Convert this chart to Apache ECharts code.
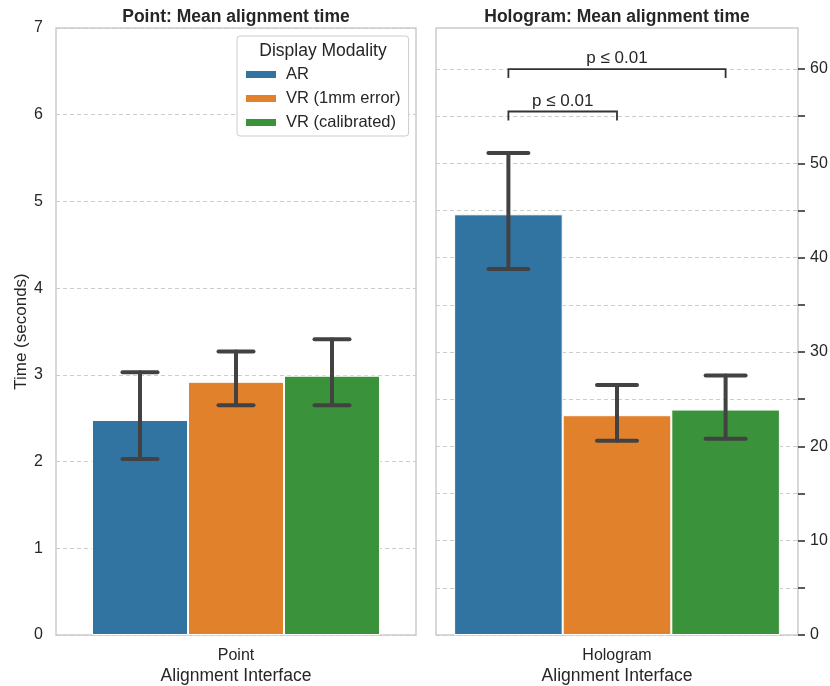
<!DOCTYPE html>
<html>
<head>
<meta charset="utf-8">
<script src="https://cdn.jsdelivr.net/npm/echarts@6/dist/echarts.min.js"></script>
<style>html,body{margin:0;padding:0;background:#fff}#c{width:830px;height:686px}</style>
</head>
<body>
<div id="c"></div>
<script>
// ---- data ----
const modalities = ['AR', 'VR (1mm error)', 'VR (calibrated)'];
const pointCategories = ['Point'];
const hologramCategories = ['Hologram'];
const pointMeans = [2.48, 2.92, 2.99];
const pointLow = [2.03, 2.65, 2.65];
const pointHigh = [3.03, 3.27, 3.41];
const hologramMeans = [44.6, 23.3, 23.9];
const hologramLow = [38.8, 20.6, 20.8];
const hologramHigh = [51.1, 26.5, 27.5];
const pointTicks = [0, 1, 2, 3, 4, 5, 6, 7];
const hologramTickValues = [0, 5, 10, 15, 20, 25, 30, 35, 40, 45, 50, 55, 60];
const hologramLabelValues = [0, 10, 20, 30, 40, 50, 60];
// significance brackets: [fromModality, toModality, height, label]
const brackets = [[0, 2, 60.0, 'p \u2264 0.01'], [0, 1, 55.5, 'p \u2264 0.01']];

const colors = ['#3274a1', '#e1812c', '#3a923a'];
const FONT = '"Liberation Sans", Arial, sans-serif';
const TXT = '#262626';
const ERR = '#424242';

const chart = echarts.init(document.getElementById('c'), null, {renderer: 'canvas'});

function errSeries(gridIdx, lows, highs, i, frac, cap) {
  return {
    type: 'custom', xAxisIndex: gridIdx, yAxisIndex: gridIdx, z: 10, silent: true,
    data: [[0, lows[i], highs[i]]],
    encode: {x: 0, y: [1, 2]},
    renderItem(params, api) {
      const lo = api.coord([api.value(0), api.value(1)]);
      const hi = api.coord([api.value(0), api.value(2)]);
      const band = api.size([1, 0])[0];
      const bw = band * frac / 3;
      const x = lo[0] + (i - 1) * bw;
      const style = {stroke: ERR, lineWidth: 4, lineCap: 'round'};
      return {type: 'group', children: [
        {type: 'line', shape: {x1: x, y1: lo[1], x2: x, y2: hi[1]}, style},
        {type: 'line', shape: {x1: x - cap, y1: lo[1], x2: x + cap, y2: lo[1]}, style},
        {type: 'line', shape: {x1: x - cap, y1: hi[1], x2: x + cap, y2: hi[1]}, style}
      ]};
    }
  };
}

const series = [];
modalities.forEach((m, i) => {
  series.push({
    type: 'bar', name: m, xAxisIndex: 0, yAxisIndex: 0, data: [pointMeans[i]],
    itemStyle: {color: colors[i], borderColor: '#fff', borderWidth: 1},
    barGap: '0%', barCategoryGap: '20%', silent: true
  });
  series.push({
    type: 'bar', name: m, xAxisIndex: 1, yAxisIndex: 1, data: [hologramMeans[i]],
    itemStyle: {color: colors[i], borderColor: '#fff', borderWidth: 1},
    barGap: '0%', barCategoryGap: '10%', silent: true
  });
});
modalities.forEach((m, i) => {
  series.push(errSeries(0, pointLow, pointHigh, i, 0.8, 17.5));
  series.push(errSeries(1, hologramLow, hologramHigh, i, 0.9, 20));
});
series.push({
  type: 'custom', xAxisIndex: 1, yAxisIndex: 1, z: 12, silent: true,
  data: brackets.map(b => [0, b[2], b[0], b[1]]),
  encode: {x: 0, y: 1},
  renderItem(params, api) {
    const p = api.coord([api.value(0), api.value(1)]);
    const band = api.size([1, 0])[0];
    const bw = band * 0.9 / 3;
    const x1 = p[0] + (api.value(2) - 1) * bw;
    const x2 = p[0] + (api.value(3) - 1) * bw;
    const drop = 9;
    const style = {stroke: '#333', lineWidth: 1.8, fill: null};
    const b = brackets[params.dataIndex];
    return {type: 'group', children: [
      {type: 'polyline', shape: {points: [[x1, p[1] + drop], [x1, p[1]], [x2, p[1]], [x2, p[1] + drop]]}, style},
      {type: 'text', x: (x1 + x2) / 2, y: p[1] - 2,
        style: {text: b[3], fill: TXT, font: '17px ' + FONT, textAlign: 'center', textVerticalAlign: 'bottom'}}
    ]};
  }
});

const option = {
  animation: false,
  backgroundColor: '#fff',
  textStyle: {fontFamily: FONT},
  grid: [
    {left: 56, right: 414, top: 28, bottom: 51, show: true, borderColor: '#cccccc', borderWidth: 1.5,
      backgroundColor: 'transparent', containLabel: false, outerBoundsMode: 'none'},
    {left: 436, right: 32, top: 28, bottom: 51, show: true, borderColor: '#cccccc', borderWidth: 1.5,
      backgroundColor: 'transparent', containLabel: false, outerBoundsMode: 'none'}
  ],
  xAxis: [
    {type: 'category', gridIndex: 0, data: pointCategories,
      axisLine: {show: false}, axisTick: {show: false},
      axisLabel: {color: TXT, fontSize: 16, margin: 13, fontFamily: FONT},
      name: 'Alignment Interface', nameLocation: 'middle', nameGap: 32, nameMoveOverlap: false,
      nameTextStyle: {color: TXT, fontSize: 17.5, fontFamily: FONT}},
    {type: 'category', gridIndex: 1, data: hologramCategories,
      axisLine: {show: false}, axisTick: {show: false},
      axisLabel: {color: TXT, fontSize: 16, margin: 13, fontFamily: FONT},
      name: 'Alignment Interface', nameLocation: 'middle', nameGap: 32, nameMoveOverlap: false,
      nameTextStyle: {color: TXT, fontSize: 17.5, fontFamily: FONT}}
  ],
  yAxis: [
    {type: 'value', gridIndex: 0, min: pointTicks[0], max: pointTicks[pointTicks.length - 1], interval: 1,
      axisLine: {show: false}, axisTick: {show: false},
      axisLabel: {color: TXT, fontSize: 16, margin: 13, fontFamily: FONT},
      splitLine: {lineStyle: {color: '#cccccc', type: [4, 3], width: 1}},
      name: 'Time (seconds)', nameLocation: 'middle', nameGap: 26,
      nameTextStyle: {color: TXT, fontSize: 17, fontFamily: FONT}},
    {type: 'value', gridIndex: 1, position: 'right', min: 0, max: 64.35, interval: 5,
      axisLine: {show: false},
      axisTick: {show: true, length: 7, inside: false, customValues: hologramTickValues,
        lineStyle: {color: TXT, width: 1.5}},
      axisLabel: {color: TXT, fontSize: 16, margin: 12, fontFamily: FONT, customValues: hologramLabelValues},
      splitLine: {lineStyle: {color: '#cccccc', type: [4, 3], width: 1}}}
  ],
  legend: {
    data: modalities, orient: 'vertical', left: 237, top: 36,
    padding: [30, 8, 5, 7], itemGap: 7, itemWidth: 32, itemHeight: 9,
    backgroundColor: '#fff', borderColor: '#cccccc', borderWidth: 1, borderRadius: 3,
    icon: 'rect', selectedMode: false,
    textStyle: {color: TXT, fontSize: 16.5, fontFamily: FONT, padding: [0, 0, 0, 4]}
  },
  graphic: [
    {type: 'text', x: 236, y: 17, z: 100,
      style: {text: 'Point: Mean alignment time', fill: TXT, font: 'bold 17.5px ' + FONT, textAlign: 'center', textVerticalAlign: 'middle'}},
    {type: 'text', x: 617, y: 17, z: 100,
      style: {text: 'Hologram: Mean alignment time', fill: TXT, font: 'bold 17.5px ' + FONT, textAlign: 'center', textVerticalAlign: 'middle'}},
    {type: 'text', x: 323, y: 51, z: 100,
      style: {text: 'Display Modality', fill: TXT, font: '17.5px ' + FONT, textAlign: 'center', textVerticalAlign: 'middle'}}
  ],
  series
};
chart.setOption(option);
</script>
</body>
</html>
